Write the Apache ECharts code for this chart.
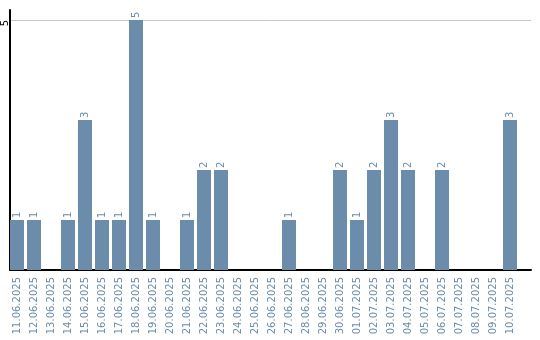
<!DOCTYPE html>
<html>
<head>
<meta charset="utf-8">
<script src="https://cdn.jsdelivr.net/npm/echarts@6/dist/echarts.min.js"></script>
<style>html,body{margin:0;padding:0;background:#fff}#c{width:540px;height:340px}</style>
</head>
<body>
<div id="c"></div>
<script>
const categories = ["11.06.2025","12.06.2025","13.06.2025","14.06.2025","15.06.2025","16.06.2025","17.06.2025","18.06.2025","19.06.2025","20.06.2025","21.06.2025","22.06.2025","23.06.2025","24.06.2025","25.06.2025","26.06.2025","27.06.2025","28.06.2025","29.06.2025","30.06.2025","01.07.2025","02.07.2025","03.07.2025","04.07.2025","05.07.2025","06.07.2025","07.07.2025","08.07.2025","09.07.2025","10.07.2025"];
const values = [1,1,0,1,3,1,1,5,1,0,1,2,2,0,0,0,1,0,0,2,1,2,3,2,0,2,0,0,0,3];
const yTicks = [5];

const BLUE = '#6b8cab';
const FONT = 'DejaVu Sans';
const chart = echarts.init(document.getElementById('c'), null, {renderer: 'canvas'});
chart.setOption({
  animation: false,
  grid: [
    {left: 8.5, width: 510, top: 10, bottom: 70, outerBoundsMode: 'none', containLabel: false},
    {left: 10, right: 9, top: 10, bottom: 70, outerBoundsMode: 'none', containLabel: false}
  ],
  xAxis: [
    {
      type: 'category', gridIndex: 0, data: categories,
      axisLine: {show: false}, axisTick: {show: false},
      axisLabel: {rotate: 90, interval: 0, margin: 7, color: BLUE, fontFamily: FONT, fontSize: 10}
    },
    {
      type: 'value', gridIndex: 1, min: 0, max: 1,
      axisLine: {show: true, lineStyle: {color: '#000', width: 2}},
      axisTick: {show: false}, axisLabel: {show: false}, splitLine: {show: false}
    }
  ],
  yAxis: [
    {type: 'value', gridIndex: 0, min: 0, max: 5.2, show: false},
    {
      type: 'value', gridIndex: 1, min: 0, max: 5.2, interval: 5,
      axisLine: {show: true, lineStyle: {color: '#000', width: 2}},
      axisTick: {show: false},
      axisLabel: {
        rotate: 90, margin: 0, color: '#000', fontFamily: FONT, fontSize: 10,
        align: 'right', verticalAlign: 'bottom',
        formatter: v => (yTicks.indexOf(v) >= 0 ? String(v) : '')
      },
      splitLine: {show: true, showMinLine: false, showMaxLine: false, lineStyle: {color: '#c8c8c8', width: 1}}
    }
  ],
  series: [{
    type: 'bar', xAxisIndex: 0, yAxisIndex: 0,
    data: values.map(v => v === 0 ? null : v),
    barWidth: 14,
    itemStyle: {color: BLUE},
    label: {
      show: true, position: 'top', rotate: 90, align: 'left', verticalAlign: 'middle',
      distance: 2, color: BLUE, fontFamily: FONT, fontSize: 10
    }
  }]
});
</script>
</body>
</html>
